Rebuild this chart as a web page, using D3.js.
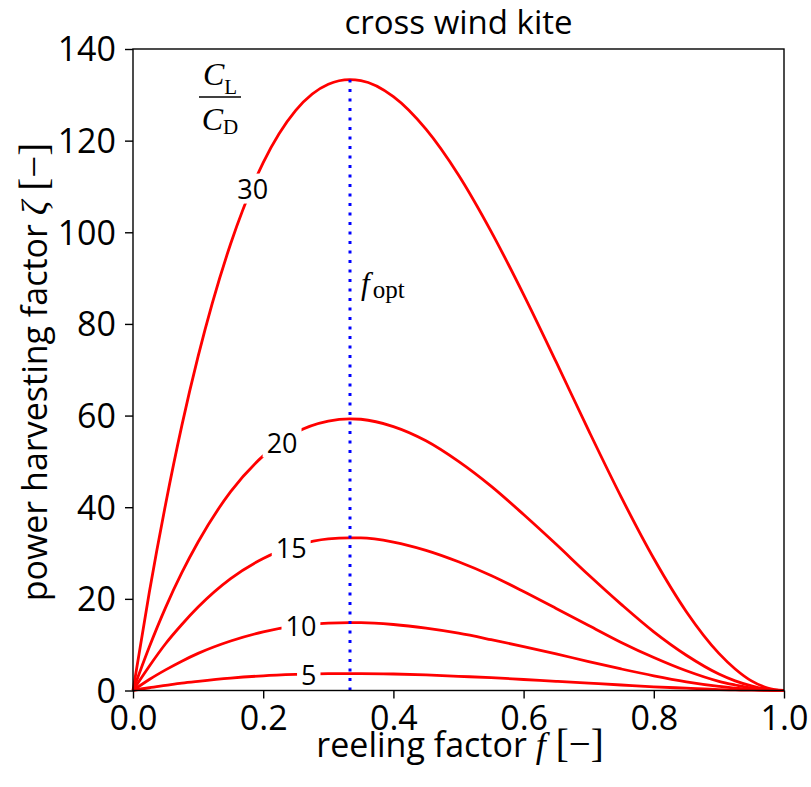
<!DOCTYPE html>
<html><head><meta charset="utf-8">
<script src="https://cdn.jsdelivr.net/npm/d3@7"></script>
<style>body{margin:0;background:#fff}svg{display:block}</style>
</head><body>
<svg id="chart" width="811" height="787"></svg>
<script>
// reeling factor f (x values)
const reelingFactor = [0, 0.025, 0.05, 0.075, 0.1, 0.15, 0.2, 0.25, 0.3, 0.333, 0.35, 0.4, 0.45, 0.5, 0.55, 0.6, 0.65, 0.7, 0.75, 0.8, 0.85, 0.9, 0.925, 0.95, 0.975, 1.0];
// glide ratios CL/CD
const glideRatios = [5, 10, 15, 20, 30];
// power harvesting factor zeta per glide ratio
const zeta5  = [0, 0.6, 1.1, 1.6, 2.0, 2.7, 3.2, 3.5, 3.7, 3.7, 3.7, 3.6, 3.4, 3.1, 2.8, 2.4, 2.0, 1.6, 1.2, 0.8, 0.5, 0.2, 0.13, 0.06, 0.02, 0];
const zeta10 = [0, 2.4, 4.5, 6.4, 8.1, 10.8, 12.8, 14.1, 14.7, 14.8, 14.8, 14.4, 13.6, 12.5, 11.1, 9.6, 8.0, 6.3, 4.7, 3.2, 1.9, 0.9, 0.5, 0.24, 0.06, 0];
const zeta15 = [0, 5.3, 10.2, 14.4, 18.2, 24.4, 28.8, 31.6, 33.1, 33.3, 33.3, 32.4, 30.6, 28.1, 25.1, 21.6, 17.9, 14.2, 10.5, 7.2, 4.3, 2.0, 1.2, 0.5, 0.14, 0];
const zeta20 = [0, 9.5, 18.1, 25.7, 32.4, 43.4, 51.2, 56.3, 58.8, 59.3, 59.2, 57.6, 54.5, 50.0, 44.6, 38.4, 31.9, 25.2, 18.8, 12.8, 7.7, 3.6, 2.1, 1.0, 0.24, 0];
const zeta30 = [0, 21.4, 40.6, 57.8, 72.9, 97.5, 115.2, 126.6, 132.3, 133.3, 133.1, 129.6, 122.5, 112.5, 100.2, 86.4, 71.7, 56.7, 42.2, 28.8, 17.2, 8.1, 4.7, 2.1, 0.55, 0];
const zetaSeries = [zeta5, zeta10, zeta15, zeta20, zeta30];
// f positions of the inline curve labels
const labelF = [0.27, 0.258, 0.243, 0.229, 0.184];
// optimal reeling factor and its zeta
const fOpt = 1/3;
const zetaOptTop = 133.3;
const xTicks = [0, 0.2, 0.4, 0.6, 0.8, 1.0];
const yTicks = [0, 20, 40, 60, 80, 100, 120, 140];

const svg = d3.select('#chart');
const L = 133, R = 784, T = 49, B = 690.5;
const x = d3.scaleLinear().domain([0, 1]).range([L, R]);
const y = d3.scaleLinear().domain([0, 140]).range([B, T]);
const sans = "'Open Sans', sans-serif";
const serif = "'Liberation Serif', 'DejaVu Serif', serif";
const FS = 34;

// curves
const line = d3.line().x((d,i)=>x(reelingFactor[i])).y(d=>y(d)).curve(d3.curveMonotoneX);
svg.append('g').selectAll('path').data(zetaSeries).join('path')
  .attr('d', d=>line(d)).attr('fill','none').attr('stroke','#ff0000').attr('stroke-width',2.8);

// inline labels
function interp(arr, f){
  for(let i=0;i<reelingFactor.length-1;i++){
    if(f>=reelingFactor[i] && f<=reelingFactor[i+1]){
      const t=(f-reelingFactor[i])/(reelingFactor[i+1]-reelingFactor[i]);
      return arr[i]+(arr[i+1]-arr[i])*t;
    }
  }
  return 0;
}
const lg = svg.append('g');
glideRatios.forEach((g,i)=>{
  const cx = x(labelF[i]), cy = y(interp(zetaSeries[i], labelF[i]));
  const t = lg.append('text').attr('x',cx).attr('y',cy).attr('text-anchor','middle')
    .attr('dominant-baseline','central').attr('font-family',sans).attr('font-size',27).attr('fill','#000').text(g);
  const bb = t.node().getBBox();
  lg.insert('rect', () => t.node()).attr('x',bb.x-4).attr('y',cy-15).attr('width',bb.width+8).attr('height',30).attr('fill','#fff');
});

// f_opt dotted line
svg.append('line').attr('x1',x(fOpt)).attr('x2',x(fOpt)).attr('y1',y(0)).attr('y2',y(zetaOptTop))
  .attr('stroke','#0000ff').attr('stroke-width',3).attr('stroke-dasharray','3 6.5');

// frame
svg.append('rect').attr('x',L).attr('y',T).attr('width',R-L).attr('height',B-T)
  .attr('fill','none').attr('stroke','#000').attr('stroke-width',1.4);

// axes
const xAxis = svg.append('g').attr('transform',`translate(0,${B})`)
  .call(d3.axisBottom(x).tickValues(xTicks).tickFormat(d3.format('.1f')).tickSize(8).tickPadding(7));
const yAxis = svg.append('g').attr('transform',`translate(${L},0)`)
  .call(d3.axisLeft(y).tickValues(yTicks).tickFormat(d3.format('d')).tickSize(8).tickPadding(9));
[xAxis,yAxis].forEach(a=>{
  a.select('.domain').remove();
  a.selectAll('line').attr('stroke','#000').attr('stroke-width',1.4);
  a.selectAll('text').attr('font-family',sans).attr('font-size',FS).attr('fill','#000');
});
yAxis.selectAll('text').attr('dy','0.35em');

// title
svg.append('text').attr('x',(L+R)/2).attr('y',34).attr('text-anchor','middle')
  .attr('font-family',sans).attr('font-size',33).text('cross wind kite');

// x label
const xl = svg.append('text').attr('x',460).attr('y',757).attr('text-anchor','middle').attr('font-size',FS);
xl.append('tspan').attr('font-family',sans).text('reeling factor ');
xl.append('tspan').attr('font-family',serif).attr('font-style','italic').attr('font-size',36).text('f');
xl.append('tspan').attr('font-family',serif).attr('font-size',39).attr('dx',10).text('[\u2212]');

// y label
const yl = svg.append('text').attr('transform',`translate(47,372) rotate(-90)`).attr('text-anchor','middle').attr('font-size',FS);
yl.append('tspan').attr('font-family',sans).text('power harvesting factor ');
yl.append('tspan').attr('font-family',serif).attr('font-style','italic').attr('font-size',36).text('\u03b6');
yl.append('tspan').attr('font-family',serif).attr('font-size',39).attr('dx',10).text('[\u2212]');

// CL/CD fraction
const fr = svg.append('g').attr('font-family',serif);
const num = fr.append('text').attr('x',220).attr('y',85).attr('text-anchor','middle');
num.append('tspan').attr('font-style','italic').attr('font-size',32).text('C');
num.append('tspan').attr('font-size',21).attr('dy',9).text('L');
fr.append('line').attr('x1',199).attr('x2',241).attr('y1',97).attr('y2',97).attr('stroke','#000').attr('stroke-width',1.3);
const den = fr.append('text').attr('x',220).attr('y',130).attr('text-anchor','middle');
den.append('tspan').attr('font-style','italic').attr('font-size',32).text('C');
den.append('tspan').attr('font-size',21).attr('dy',4).text('D');

// f_opt label
const fo = svg.append('text').attr('x',x(fOpt)+11).attr('y',294).attr('font-family',serif);
fo.append('tspan').attr('font-style','italic').attr('font-size',31).text('f');
fo.append('tspan').attr('font-size',25).attr('dx',3).attr('dy',4).text('opt');
</script>
</body></html>
